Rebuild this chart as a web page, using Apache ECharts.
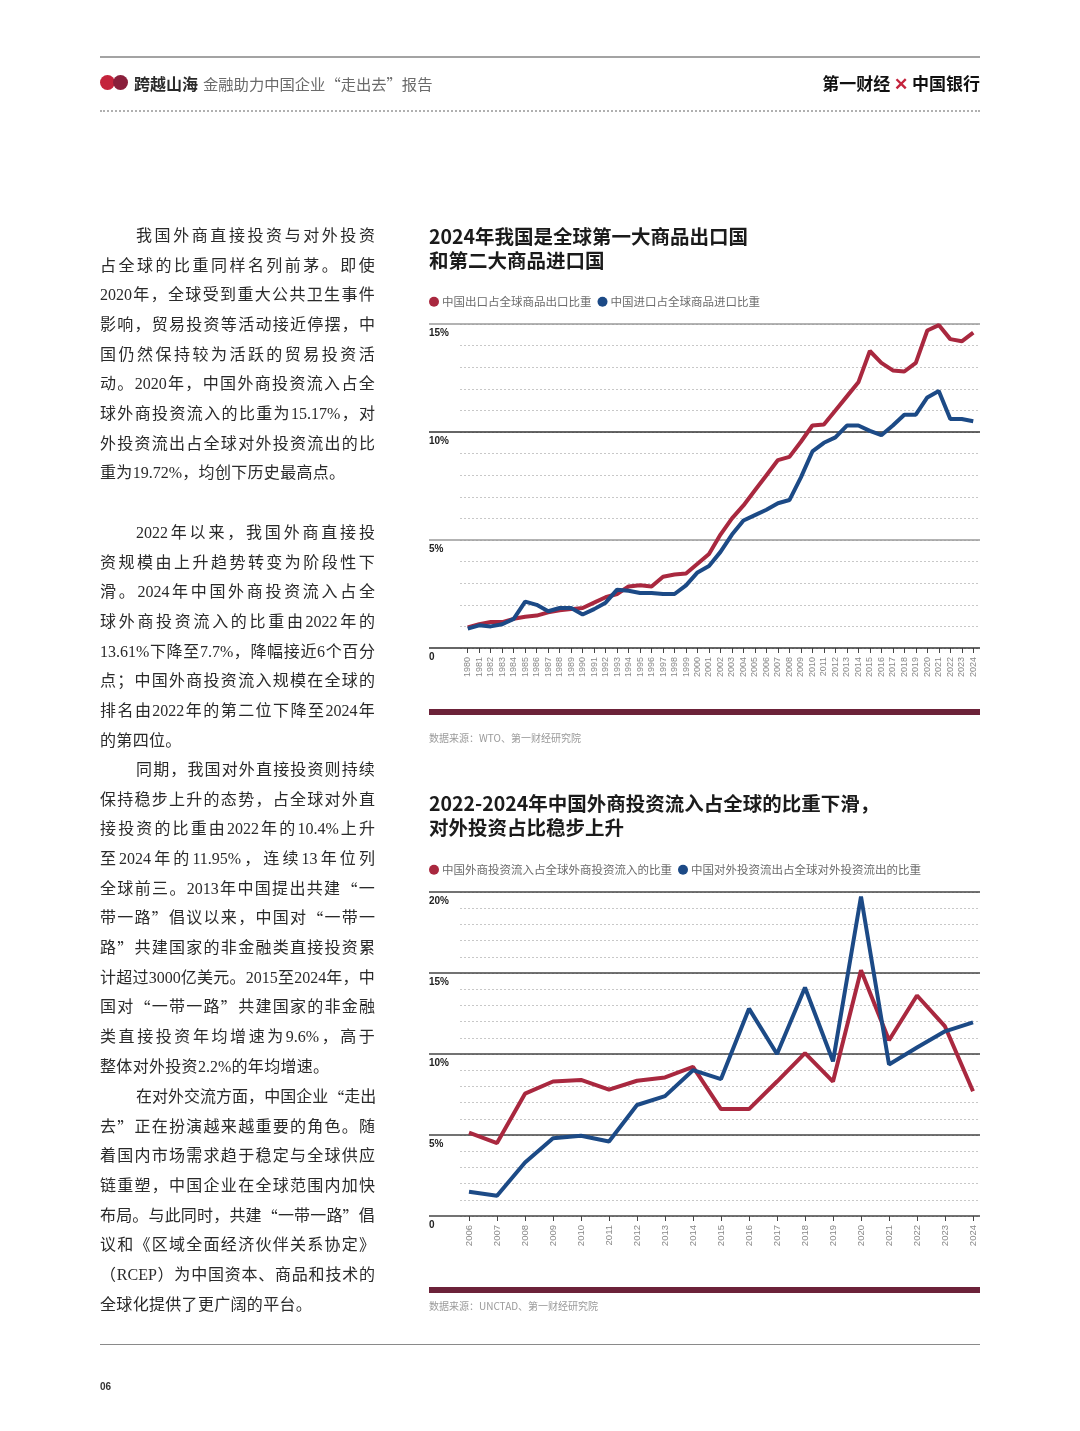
<!DOCTYPE html>
<html lang="zh-CN">
<head>
<meta charset="utf-8">
<title>跨越山海</title>
<script src="https://cdn.jsdelivr.net/npm/echarts@6.0.0/dist/echarts.min.js"></script>
<style>
html,body{margin:0;padding:0;background:#fff;}
#page{position:relative;width:1080px;height:1431px;overflow:hidden;background:#fff;font-family:"Noto Sans CJK SC",sans-serif;}
#chart{position:absolute;left:0;top:0;width:1080px;height:1431px;}
.abs{position:absolute;white-space:nowrap;}
.line{position:absolute;display:flex;height:20px;line-height:20px;font-family:"Liberation Serif","Noto Sans CJK SC",serif;font-size:16px;color:#2a2a2a;white-space:nowrap;}
.line.just{justify-content:space-between;}
.line.last{justify-content:flex-start;gap:0.3px;}
.line .q{font-family:"Noto Sans CJK SC",sans-serif;}
</style>
</head>
<body>
<div id="page">
  <div id="chart"></div>
  <div class="abs" style="left:100px;top:56px;width:880px;height:2px;background:#a3a3a3"></div>
  <div class="abs" style="left:100px;top:75px;width:15px;height:15px;border-radius:50%;background:#c4233c"></div>
  <div class="abs" style="left:113px;top:75px;width:15px;height:15px;border-radius:50%;background:#8a1f3b"></div>
  <div class="abs" style="left:134px;top:72px;line-height:22px;font-size:16px;font-weight:700;color:#2a2a2a">跨越山海</div>
  <div class="abs" style="left:203px;top:72px;line-height:22px;font-size:15.3px;color:#6a6a6a">金融助力中国企业“走出去”报告</div>
  <div class="abs" style="right:100px;top:72px;line-height:22px;font-size:17px;font-weight:700;color:#111">第一财经 <span style="color:#c4233c">✕</span> 中国银行</div>
  <div class="abs" style="left:100px;top:110px;width:880px;border-top:2px dotted #b0b0b0"></div>
  <div id="body"></div>
  <div class="abs" style="left:100px;top:1344px;width:880px;height:1px;background:#8a8a8a"></div>
  <div class="abs" style="left:100px;top:1381px;font-size:10px;font-weight:700;color:#333;font-family:'Liberation Sans',sans-serif">06</div>
</div>
<script>
// ---------------- Chart 1 data ----------------
const years1 = ['1980','1981','1982','1983','1984','1985','1986','1987','1988','1989',
  '1990','1991','1992','1993','1994','1995','1996','1997','1998','1999',
  '2000','2001','2002','2003','2004','2005','2006','2007','2008','2009',
  '2010','2011','2012','2013','2014','2015','2016','2017','2018','2019',
  '2020','2021','2022','2023','2024'];
const exportShare = [0.95,1.1,1.2,1.2,1.35,1.45,1.5,1.65,1.75,1.8,
  1.85,2.1,2.35,2.5,2.85,2.9,2.85,3.3,3.4,3.45,
  3.9,4.35,5.25,6.0,6.6,7.3,8.0,8.7,8.85,9.55,
  10.3,10.35,11.0,11.65,12.3,13.75,13.2,12.85,12.8,13.2,
  14.7,14.95,14.3,14.2,14.6];
const importShare = [0.9,1.05,1.0,1.1,1.35,2.15,2.0,1.7,1.85,1.85,
  1.55,1.8,2.1,2.7,2.65,2.55,2.55,2.5,2.5,2.9,
  3.5,3.8,4.45,5.25,5.9,6.15,6.4,6.7,6.85,7.9,
  9.1,9.5,9.75,10.3,10.3,10.05,9.85,10.3,10.8,10.8,
  11.6,11.9,10.6,10.6,10.5];
const yTickLabels1 = ['0','5%','10%','15%'];
const names1 = ['中国出口占全球商品出口比重','中国进口占全球商品进口比重'];
const title1 = '2024年我国是全球第一大商品出口国\n和第二大商品进口国';
const source1 = '数据来源：WTO、第一财经研究院';

// ---------------- Chart 2 data ----------------
const years2 = ['2006','2007','2008','2009','2010','2011','2012','2013','2014','2015',
  '2016','2017','2018','2019','2020','2021','2022','2023','2024'];
const fdiInShare = [5.15,4.5,7.55,8.3,8.4,7.8,8.35,8.55,9.2,6.6,
  6.6,8.3,10.05,8.3,15.17,10.85,13.61,11.7,7.7];
const fdiOutShare = [1.5,1.25,3.3,4.8,4.95,4.6,6.85,7.4,9.0,8.45,
  12.8,10.0,14.1,9.55,19.72,9.35,10.4,11.4,11.95];
const yTickLabels2 = ['0','5%','10%','15%','20%'];
const names2 = ['中国外商投资流入占全球外商投资流入的比重','中国对外投资流出占全球对外投资流出的比重'];
const title2 = '2022-2024年中国外商投资流入占全球的比重下滑，\n对外投资占比稳步上升';
const source2 = '数据来源：UNCTAD、第一财经研究院';

// ---------------- Body text ----------------
const para1 = ['我国外商直接投资与对外投资','占全球的比重同样名列前茅。即使','2020年，全球受到重大公共卫生事件','影响，贸易投资等活动接近停摆，中','国仍然保持较为活跃的贸易投资活','动。2020年，中国外商投资流入占全','球外商投资流入的比重为15.17%，对','外投资流出占全球对外投资流出的比','重为19.72%，均创下历史最高点。'];
const para2 = ['2022年以来，我国外商直接投','资规模由上升趋势转变为阶段性下','滑。2024年中国外商投资流入占全','球外商投资流入的比重由2022年的','13.61%下降至7.7%，降幅接近6个百分','点；中国外商投资流入规模在全球的','排名由2022年的第二位下降至2024年','的第四位。'];
const para3 = ['同期，我国对外直接投资则持续','保持稳步上升的态势，占全球对外直','接投资的比重由2022年的10.4%上升','至2024年的11.95%，连续13年位列','全球前三。2013年中国提出共建“一','带一路”倡议以来，中国对“一带一','路”共建国家的非金融类直接投资累','计超过3000亿美元。2015至2024年，中','国对“一带一路”共建国家的非金融','类直接投资年均增速为9.6%，高于','整体对外投资2.2%的年均增速。'];
const para4 = ['在对外交流方面，中国企业“走出','去”正在扮演越来越重要的角色。随','着国内市场需求趋于稳定与全球供应','链重塑，中国企业在全球范围内加快','布局。与此同时，共建“一带一路”倡','议和《区域全面经济伙伴关系协定》','（RCEP）为中国资本、商品和技术的','全球化提供了更广阔的平台。'];

// layout of body text
(function buildText(){
  const host = document.getElementById('body');
  const paras = [para1, para2, para3, para4];
  const starts = [236, 533, 770, 1097];
  const gap = 29.65;
  paras.forEach((p, pi) => {
    p.forEach((ln, i) => {
      const d = document.createElement('div');
      const isLast = i === p.length - 1;
      d.className = 'line ' + (isLast ? 'last' : 'just');
      d.style.top = (starts[pi] + i * gap - 10) + 'px';
      d.style.left = (i === 0 ? 136 : 100) + 'px';
      d.style.width = (i === 0 ? 239 : 275) + 'px';
      const toks = ln.match(/[A-Za-z0-9.%]+|[\s\S]/gu);
      toks.forEach(t => {
        const s = document.createElement('span');
        if (t === '“' || t === '”') s.className = 'q';
        s.textContent = t;
        d.appendChild(s);
      });
      host.appendChild(d);
    });
  });
})();

// ---------------- ECharts ----------------
const RED = '#a9283f', BLUE = '#1c4a86', BAR = '#6c2239';
const FONT = '"Noto Sans CJK SC", sans-serif';
const chart = echarts.init(document.getElementById('chart'), null, {renderer: 'canvas', width: 1080, height: 1431});

const baseTitle = {padding: 0, textStyle: {fontSize: 19.5, fontWeight: 'bold', color: '#1b1b1b', lineHeight: 23.5, fontFamily: FONT}};
const srcTitle = {padding: 0, textStyle: {fontSize: 10, fontWeight: 'normal', color: '#9a9a9a', fontFamily: FONT}};
const legendBase = {icon: 'circle', itemWidth: 10, itemHeight: 10, itemGap: 6, padding: 0, selectedMode: false,
  textStyle: {fontSize: 11.5, color: '#6b6b6b', fontFamily: FONT, padding: [0, 0, 0, -2]}};

function mainX(gridIndex, data, fs){
  return {gridIndex, type: 'category', data, boundaryGap: true,
    axisLine: {show: false},
    axisTick: {show: true, alignWithLabel: true, length: 5, lineStyle: {color: '#444', width: 1}},
    axisLabel: {interval: 0, rotate: 90, fontSize: fs, color: '#888', margin: 9, fontFamily: '"Liberation Sans", sans-serif'},
    splitLine: {show: false}};
}
function mainY(gridIndex, max){
  return {gridIndex, type: 'value', min: 0, max,
    axisLine: {show: false}, axisTick: {show: false}, axisLabel: {show: false}, splitLine: {show: false}};
}
function dashY(gridIndex, max){
  return {gridIndex, type: 'value', min: 0, max, interval: 1,
    axisLine: {show: false}, axisTick: {show: false}, axisLabel: {show: false},
    splitLine: {show: true, lineStyle: {color: '#c8c8c8', type: [2, 2], width: 1}}};
}
function overlayY(gridIndex, max, labels, colors){
  return {gridIndex, type: 'value', min: 0, max, interval: 5, z: 1,
    axisLine: {show: false}, axisTick: {show: false},
    splitLine: {show: true, lineStyle: {color: colors, width: 1.5}},
    axisLabel: {inside: true, margin: 0, verticalAlign: 'top', padding: [4, 0, 0, 0],
      fontSize: 10, fontWeight: 'bold', color: '#222', fontFamily: '"Liberation Sans", sans-serif',
      formatter: v => labels[Math.round(v / 5)]}};
}
const hiddenX = g => ({gridIndex: g, type: 'value', min: 0, max: 1, show: false});

const option = {
  backgroundColor: 'transparent',
  animation: false,
  textStyle: {fontFamily: FONT},
  title: [
    Object.assign({}, baseTitle, {text: title1, left: 429, top: 225}),
    Object.assign({}, baseTitle, {text: title2, left: 429, top: 792}),
    Object.assign({}, srcTitle, {text: source1, left: 429, top: 733}),
    Object.assign({}, srcTitle, {text: source2, left: 429, top: 1301})
  ],
  legend: [
    Object.assign({}, legendBase, {data: names1, left: 429, top: 296}),
    Object.assign({}, legendBase, {data: names2, left: 429, top: 864})
  ],
  grid: [
    {left: 462, right: 101, top: 324, height: 324, outerBoundsMode: 'none'},  // 0 chart1 series
    {left: 429, right: 100, top: 324, height: 324, outerBoundsMode: 'none'},  // 1 chart1 solid lines
    {left: 460, right: 100, top: 324, height: 324, outerBoundsMode: 'none'},  // 2 chart1 dashed
    {left: 455, right: 93, top: 892, height: 324, outerBoundsMode: 'none'},   // 3 chart2 series
    {left: 429, right: 100, top: 892, height: 324, outerBoundsMode: 'none'},  // 4 chart2 solid
    {left: 460, right: 100, top: 892, height: 324, outerBoundsMode: 'none'}   // 5 chart2 dashed
  ],
  xAxis: [
    mainX(0, years1, 9),
    hiddenX(1),
    hiddenX(2),
    mainX(3, years2, 9.5),
    hiddenX(4),
    hiddenX(5)
  ],
  yAxis: [
    mainY(0, 15),
    overlayY(1, 15, yTickLabels1, ['#333', '#9a9a9a']),
    dashY(2, 15),
    mainY(3, 20),
    overlayY(4, 20, yTickLabels2, ['#444']),
    dashY(5, 20)
  ],
  graphic: [
    {type: 'rect', shape: {x: 429, y: 709, width: 551, height: 6}, style: {fill: BAR}},
    {type: 'rect', shape: {x: 429, y: 1287, width: 551, height: 6}, style: {fill: BAR}}
  ],
  series: [
    {name: names1[0], type: 'line', xAxisIndex: 0, yAxisIndex: 0, data: exportShare, symbol: 'none',
      lineStyle: {width: 4, color: RED}, itemStyle: {color: RED}, z: 3},
    {name: names1[1], type: 'line', xAxisIndex: 0, yAxisIndex: 0, data: importShare, symbol: 'none',
      lineStyle: {width: 4, color: BLUE}, itemStyle: {color: BLUE}, z: 3},
    {name: names2[0], type: 'line', xAxisIndex: 3, yAxisIndex: 3, data: fdiInShare, symbol: 'none',
      lineStyle: {width: 4, color: RED}, itemStyle: {color: RED}, z: 3},
    {name: names2[1], type: 'line', xAxisIndex: 3, yAxisIndex: 3, data: fdiOutShare, symbol: 'none',
      lineStyle: {width: 4, color: BLUE}, itemStyle: {color: BLUE}, z: 3}
  ]
};
chart.setOption(option);
</script>
</body>
</html>
